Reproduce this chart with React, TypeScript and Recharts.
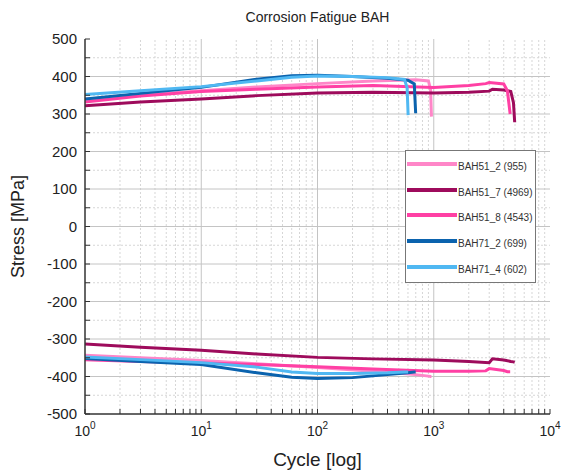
import React from "react";
import { LineChart, Line, XAxis, YAxis, ReferenceLine } from "recharts";

// max / min stress envelopes per specimen
const bah51_2Cycles = [1, 3, 10, 30, 100, 300, 700, 900, 940, 955];
const bah51_2Max = [339, 350, 362, 372, 381, 388, 391, 388, 365, 293];
const bah51_2Min = [-343, -350, -357, -366, -376, -386, -395, -399, -400, -400];

const bah51_7Cycles = [1, 3, 10, 30, 100, 300, 1000, 2000, 3000, 3200, 4000, 4600, 4850, 4969];
const bah51_7Max = [322, 332, 340, 349, 356, 358, 356, 358, 361, 366, 364, 360, 330, 278];
const bah51_7Min = [-313, -322, -330, -340, -349, -353, -356, -360, -363, -353, -356, -360, -361, -362];

const bah51_8Cycles = [1, 3, 10, 30, 100, 300, 1000, 2000, 2800, 3000, 4000, 4300, 4543];
const bah51_8Max = [332, 348, 360, 366, 372, 376, 371, 376, 381, 384, 380, 362, 300];
const bah51_8Min = [-355, -360, -364, -368, -374, -380, -386, -386, -385, -379, -384, -387, -387];

const bah71_2Cycles = [1, 3, 10, 30, 60, 100, 200, 400, 600, 680, 699];
const bah71_2Max = [340, 355, 371, 393, 402, 403, 400, 395, 390, 380, 302];
const bah71_2Min = [-352, -360, -368, -390, -402, -405, -403, -395, -390, -388, -388];

const bah71_4Cycles = [1, 3, 10, 30, 60, 100, 200, 400, 560, 590, 602];
const bah71_4Max = [352, 362, 373, 388, 398, 401, 400, 397, 392, 370, 297];
const bah71_4Min = [-348, -355, -363, -375, -388, -392, -392, -390, -388, -388, -388];

const decadeTicks = [1, 10, 100, 1000, 10000];
const minorCycleTicks = [
  2, 3, 4, 5, 6, 7, 8, 9,
  20, 30, 40, 50, 60, 70, 80, 90,
  200, 300, 400, 500, 600, 700, 800, 900,
  2000, 3000, 4000, 5000, 6000, 7000, 8000, 9000,
];
const stressTicks = [-500, -400, -300, -200, -100, 0, 100, 200, 300, 400, 500];
const stressMinorTicks = [-450, -350, -250, -150, -50, 50, 150, 250, 350, 450];

const series = [
  { name: "BAH51_2 (955)", color: "#ff86c8", cycles: bah51_2Cycles, max: bah51_2Max, min: bah51_2Min },
  { name: "BAH51_7 (4969)", color: "#9e0b5c", cycles: bah51_7Cycles, max: bah51_7Max, min: bah51_7Min },
  { name: "BAH51_8 (4543)", color: "#ff40a4", cycles: bah51_8Cycles, max: bah51_8Max, min: bah51_8Min },
  { name: "BAH71_2 (699)", color: "#0b63ae", cycles: bah71_2Cycles, max: bah71_2Max, min: bah71_2Min },
  { name: "BAH71_4 (602)", color: "#50b8f2", cycles: bah71_4Cycles, max: bah71_4Max, min: bah71_4Min },
];

const toPoints = (cycles: number[], values: number[]) =>
  cycles.map((c, i) => ({ cycle: c, stress: values[i] }));

const FONT = "'Liberation Sans', Arial, sans-serif";
const allCycleTicks = [...decadeTicks, ...minorCycleTicks].sort((a, b) => a - b);
const allStressTicks = [...stressTicks, ...stressMinorTicks].sort((a, b) => a - b);

const CycleTick = (props: any) => {
  const { x, y, payload } = props;
  const exp = Math.round(Math.log10(payload.value));
  if (!decadeTicks.includes(payload.value)) return null;
  return (
    <text x={x} y={y + 22} textAnchor="middle" fill="#222" fontFamily={FONT} fontSize={14}>
      10
      <tspan dy={-7} fontSize={10}>
        {exp}
      </tspan>
    </text>
  );
};

const App = () => {
  return (
    <div style={{ position: "absolute", left: 0, top: 0, width: 564, height: 472, background: "#fff" }}>
      <div
        style={{
          position: "absolute",
          left: 85,
          width: 465,
          top: 9,
          textAlign: "center",
          fontFamily: FONT,
          fontSize: 14,
          color: "#222",
        }}
      >
        Corrosion Fatigue BAH
      </div>
      <LineChart width={564} height={472} margin={{ top: 39, right: 14, bottom: 0, left: 25 }}>
        {minorCycleTicks.map((v) => (
          <ReferenceLine key={`vx${v}`} x={v} xAxisId="x" yAxisId="y" stroke="#d6d6d6" strokeDasharray="2 2" />
        ))}
        {stressMinorTicks.map((v) => (
          <ReferenceLine key={`hy${v}`} y={v} xAxisId="x" yAxisId="y" stroke="#d6d6d6" strokeDasharray="2 2" />
        ))}
        {decadeTicks.slice(1, -1).map((v) => (
          <ReferenceLine key={`mx${v}`} x={v} xAxisId="x" yAxisId="y" stroke="#c4c4c4" />
        ))}
        {stressTicks.slice(1, -1).map((v) => (
          <ReferenceLine key={`my${v}`} y={v} xAxisId="x" yAxisId="y" stroke="#c4c4c4" />
        ))}
        <XAxis
          xAxisId="x"
          dataKey="cycle"
          type="number"
          scale="log"
          domain={[1, 10000]}
          allowDataOverflow
          ticks={allCycleTicks}
          interval={0}
          height={58}
          tickSize={-5}
          tickMargin={5}
          tick={<CycleTick />}
          tickLine={{ stroke: "#333" }}
          axisLine={{ stroke: "#333", strokeWidth: 1.5 }}
          label={{
            value: "Cycle [log]",
            position: "insideBottom",
            offset: 6,
            fill: "#222",
            fontSize: 19,
            fontFamily: FONT,
          }}
        />
        <XAxis
          xAxisId="top"
          orientation="top"
          type="number"
          scale="log"
          domain={[1, 10000]}
          allowDataOverflow
          ticks={allCycleTicks}
          interval={0}
          height={0}
          tickSize={-5}
          tick={false}
          tickLine={{ stroke: "#444" }}
          axisLine={{ stroke: "#999", strokeWidth: 1.5 }}
        />
        <YAxis
          yAxisId="y"
          type="number"
          domain={[-500, 500]}
          allowDataOverflow
          ticks={allStressTicks}
          interval={0}
          width={60}
          tickSize={-5}
          tickMargin={13}
          tickFormatter={(v: number) => (v % 100 === 0 ? String(v) : "")}
          tick={{ fill: "#222", fontSize: 15, fontFamily: FONT }}
          tickLine={{ stroke: "#333" }}
          axisLine={{ stroke: "#333", strokeWidth: 1.5 }}
          label={{
            value: "Stress [MPa]",
            angle: -90,
            position: "insideLeft",
            offset: -7,
            style: { textAnchor: "middle" },
            fill: "#222",
            fontSize: 18,
            fontFamily: FONT,
          }}
        />
        <YAxis
          yAxisId="right"
          orientation="right"
          type="number"
          domain={[-500, 500]}
          allowDataOverflow
          ticks={allStressTicks}
          interval={0}
          width={0}
          tickSize={-5}
          tick={false}
          tickLine={{ stroke: "#444" }}
          axisLine={{ stroke: "#999", strokeWidth: 1.5 }}
        />
        {series.map((s) => (
          <Line
            key={`${s.name}-max`}
            xAxisId="x"
            yAxisId="y"
            data={toPoints(s.cycles, s.max)}
            dataKey="stress"
            type="linear"
            stroke={s.color}
            strokeWidth={3}
            dot={false}
            isAnimationActive={false}
          />
        ))}
        {series.map((s) => (
          <Line
            key={`${s.name}-min`}
            xAxisId="x"
            yAxisId="y"
            data={toPoints(s.cycles, s.min)}
            dataKey="stress"
            type="linear"
            stroke={s.color}
            strokeWidth={3}
            dot={false}
            isAnimationActive={false}
          />
        ))}
      </LineChart>
      <div
        style={{
          position: "absolute",
          left: 405,
          top: 150,
          width: 131,
          height: 133,
          border: "1px solid #777",
          background: "#fff",
          boxSizing: "border-box",
          fontFamily: FONT,
          fontSize: 10,
          color: "#333",
          paddingTop: 3,
          whiteSpace: "nowrap",
        }}
      >
        {series.map((s) => (
          <div key={s.name} style={{ display: "flex", alignItems: "center", height: 25.6 }}>
            <div style={{ width: 50, height: 4, background: s.color, marginLeft: 1, marginTop: -5 }} />
            <span style={{ marginLeft: 1 }}>{s.name}</span>
          </div>
        ))}
      </div>
    </div>
  );
};

export default App;
